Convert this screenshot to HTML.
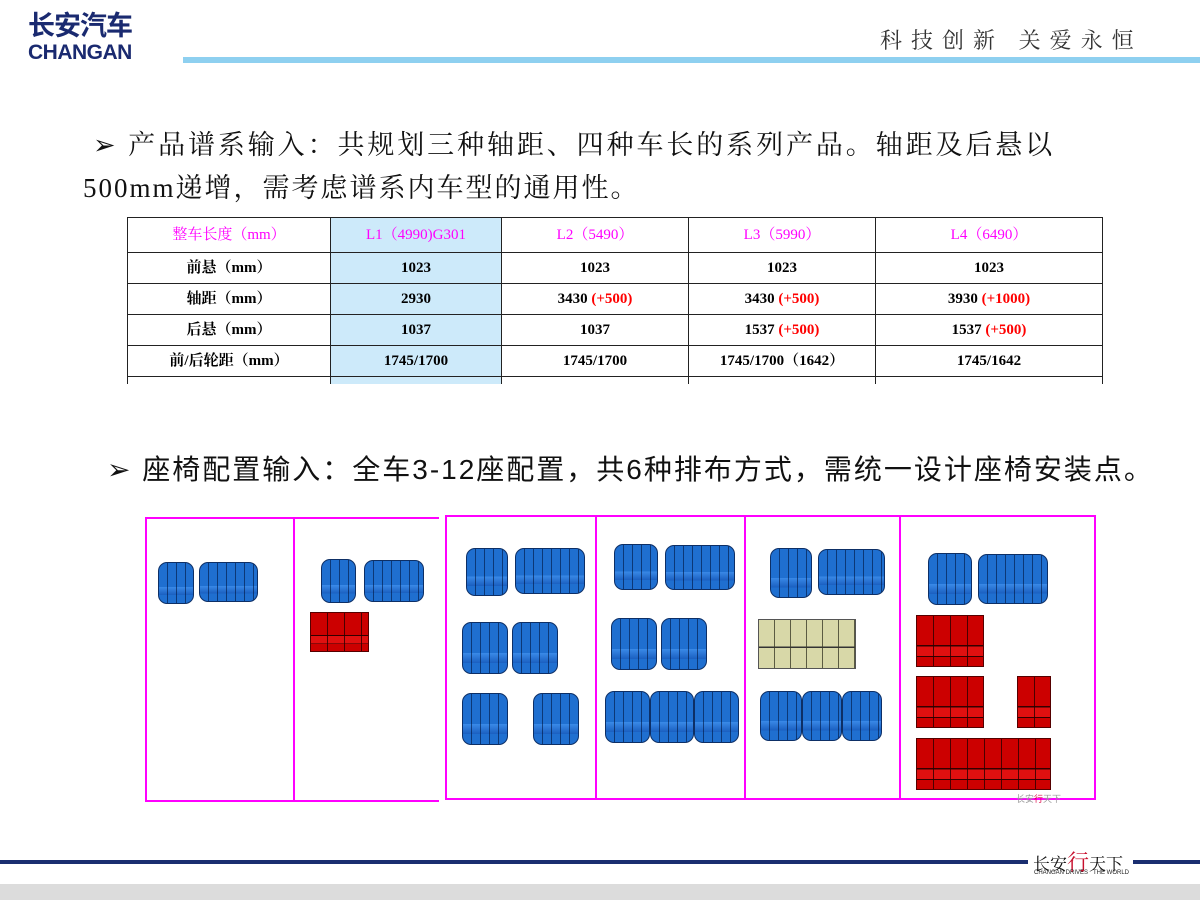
<!DOCTYPE html>
<html><head><meta charset="utf-8"><style>
body{margin:0;width:1200px;height:900px;position:relative;background:#fff;overflow:hidden;font-family:"Liberation Sans","Noto Sans CJK SC",sans-serif}
.a{position:absolute}
.t{white-space:nowrap}
table{border-collapse:collapse;position:absolute;left:127px;top:217px;width:976px;font-family:"Liberation Serif","Noto Serif CJK SC",serif;font-size:15px;font-weight:bold;table-layout:fixed}
td{border:1px solid #222;text-align:center;height:31px;padding:0;line-height:16px;box-sizing:border-box}
tr.last td{height:7px;line-height:0;font-size:0;border-bottom:none}
.m{color:#f0f;font-weight:normal}
.r{color:#f00}
.bs{position:absolute;background:#1f6fd0;border:1.5px solid #0d2f66;border-radius:9px;box-sizing:border-box;
background-image:repeating-linear-gradient(90deg,transparent 0 8px,rgba(0,20,60,.6) 8px 9px),linear-gradient(180deg,transparent 60%,#3a8ae8 60%,#1a5fc0 80%,transparent 80%)}
.rs{position:absolute;background:#cc0000;border:1px solid #500;box-sizing:border-box;
background-image:repeating-linear-gradient(90deg,transparent 0 16px,rgba(40,0,0,.8) 16px 17px),linear-gradient(180deg,transparent 58%,#300 58%,#300 61%,#e01010 61%,#e01010 80%,#300 80%,#300 82%,transparent 82%)}
.ys{position:absolute;background:#d8d8a8;border:1px solid #555;box-sizing:border-box;
background-image:repeating-linear-gradient(90deg,transparent 0 15px,rgba(60,60,40,.8) 15px 16px),linear-gradient(180deg,transparent 55%,#333 55%,#333 58%,transparent 58%)}
.pk{position:absolute;border:2px solid #f0f;box-sizing:border-box}
</style></head><body>
<!-- header -->
<div class="a t" style="left:28px;top:13px;font-size:27px;line-height:27px;font-weight:bold;color:#1a2a70;letter-spacing:-1px">长安汽车</div>
<div class="a t" style="left:28px;top:42px;font-size:21px;line-height:21px;font-weight:bold;color:#1a2a70;letter-spacing:-0.5px">CHANGAN</div>
<div class="a" style="left:183px;top:57px;width:1017px;height:6px;background:#8ed0f0"></div>
<div class="a t" style="left:880px;top:24px;font-size:22px;color:#333;letter-spacing:9px;font-family:'Noto Serif CJK SC',serif">科技创新 关爱永恒</div>
<!-- text -->
<div class="a t" style="left:93px;top:123px;font-size:27px;letter-spacing:2.9px;font-family:'Liberation Serif','Noto Serif CJK SC',serif;color:#111">➢ 产品谱系输入：共规划三种轴距、四种车长的系列产品。轴距及后悬以</div>
<div class="a t" style="left:83px;top:166px;font-size:27px;letter-spacing:2px;font-family:'Liberation Serif','Noto Serif CJK SC',serif;color:#111">500mm递增，需考虑谱系内车型的通用性。</div>
<table>
<colgroup><col style="width:203px"><col style="width:171px"><col style="width:187px"><col style="width:187px"><col></colgroup>
<tr><td class="m" style="height:35px">整车长度（mm）</td><td class="m" style="height:35px;background:#cdeafa">L1（4990)G301</td><td class="m">L2（5490）</td><td class="m">L3（5990）</td><td class="m">L4（6490）</td></tr>
<tr><td>前悬（mm）</td><td style="background:#cdeafa">1023</td><td>1023</td><td>1023</td><td>1023</td></tr>
<tr><td>轴距（mm）</td><td style="background:#cdeafa">2930</td><td>3430 <span class="r">(+500)</span></td><td>3430 <span class="r">(+500)</span></td><td>3930 <span class="r">(+1000)</span></td></tr>
<tr><td>后悬（mm）</td><td style="background:#cdeafa">1037</td><td>1037</td><td>1537 <span class="r">(+500)</span></td><td>1537 <span class="r">(+500)</span></td></tr>
<tr><td>前/后轮距（mm）</td><td style="background:#cdeafa">1745/1700</td><td>1745/1700</td><td>1745/1700（1642）</td><td>1745/1642</td></tr>
<tr class="last"><td></td><td style="background:#cdeafa"></td><td></td><td></td><td></td></tr>
</table>
<div class="a t" style="left:107px;top:448px;font-size:28px;letter-spacing:2px;color:#111">➢ 座椅配置输入：全车3-12座配置，共6种排布方式，需统一设计座椅安装点。</div>
<!-- panels -->
<div class="pk" style="left:145px;top:517px;width:294px;height:285px;border-right:none"></div>
<div class="a" style="left:293px;top:518px;width:2px;height:283px;background:#f0f"></div>
<div class="pk" style="left:445px;top:515px;width:651px;height:285px"></div>
<div class="a" style="left:595px;top:516px;width:2px;height:283px;background:#f0f"></div>
<div class="a" style="left:744px;top:516px;width:2px;height:283px;background:#f0f"></div>
<div class="a" style="left:899px;top:516px;width:2px;height:283px;background:#f0f"></div>
<!-- p1 -->
<div class="bs" style="left:158px;top:562px;width:36px;height:42px"></div>
<div class="bs" style="left:199px;top:562px;width:59px;height:40px"></div>
<!-- p2 -->
<div class="bs" style="left:321px;top:559px;width:35px;height:44px"></div>
<div class="bs" style="left:364px;top:560px;width:60px;height:42px"></div>
<div class="rs" style="left:310px;top:612px;width:59px;height:40px;border-radius:0"></div>
<!-- p3 -->
<div class="bs" style="left:466px;top:548px;width:42px;height:48px"></div>
<div class="bs" style="left:515px;top:548px;width:70px;height:46px"></div>
<div class="bs" style="left:462px;top:622px;width:46px;height:52px"></div>
<div class="bs" style="left:512px;top:622px;width:46px;height:52px"></div>
<div class="bs" style="left:462px;top:693px;width:46px;height:52px"></div>
<div class="bs" style="left:533px;top:693px;width:46px;height:52px"></div>
<!-- p4 -->
<div class="bs" style="left:614px;top:544px;width:44px;height:46px"></div>
<div class="bs" style="left:665px;top:545px;width:70px;height:45px"></div>
<div class="bs" style="left:611px;top:618px;width:46px;height:52px"></div>
<div class="bs" style="left:661px;top:618px;width:46px;height:52px"></div>
<div class="bs" style="left:605px;top:691px;width:45px;height:52px"></div>
<div class="bs" style="left:650px;top:691px;width:44px;height:52px"></div>
<div class="bs" style="left:694px;top:691px;width:45px;height:52px"></div>
<!-- p5 -->
<div class="bs" style="left:770px;top:548px;width:42px;height:50px"></div>
<div class="bs" style="left:818px;top:549px;width:67px;height:46px"></div>
<div class="ys" style="left:758px;top:619px;width:98px;height:50px"></div>
<div class="bs" style="left:760px;top:691px;width:42px;height:50px"></div>
<div class="bs" style="left:802px;top:691px;width:40px;height:50px"></div>
<div class="bs" style="left:842px;top:691px;width:40px;height:50px"></div>
<!-- p6 -->
<div class="bs" style="left:928px;top:553px;width:44px;height:52px"></div>
<div class="bs" style="left:978px;top:554px;width:70px;height:50px"></div>
<div class="rs" style="left:916px;top:615px;width:68px;height:52px"></div>
<div class="rs" style="left:916px;top:676px;width:68px;height:52px"></div>
<div class="rs" style="left:1017px;top:676px;width:34px;height:52px"></div>
<div class="rs" style="left:916px;top:738px;width:135px;height:52px"></div>
<div class="a t" style="left:1016px;top:792px;font-size:9px;color:#999">长安<span style="color:#d04">行</span>天下</div>
<!-- footer -->
<div class="a" style="left:0;top:860px;width:1028px;height:4px;background:#1a2e70"></div>
<div class="a" style="left:1133px;top:860px;width:67px;height:4px;background:#1a2e70"></div>
<div class="a t" style="left:1033px;top:846px;font-size:17px;font-family:'Noto Serif CJK SC',serif;color:#111">长安<span style="color:#c8102e;font-size:22px">行</span>天下</div>
<div class="a t" style="left:1034px;top:870px;font-size:6px;color:#222">CHANGAN DRIVES&nbsp;&nbsp;&nbsp;THE WORLD</div>
<div class="a" style="left:0;top:884px;width:1200px;height:16px;background:#dcdcdc"></div>
</body></html>
